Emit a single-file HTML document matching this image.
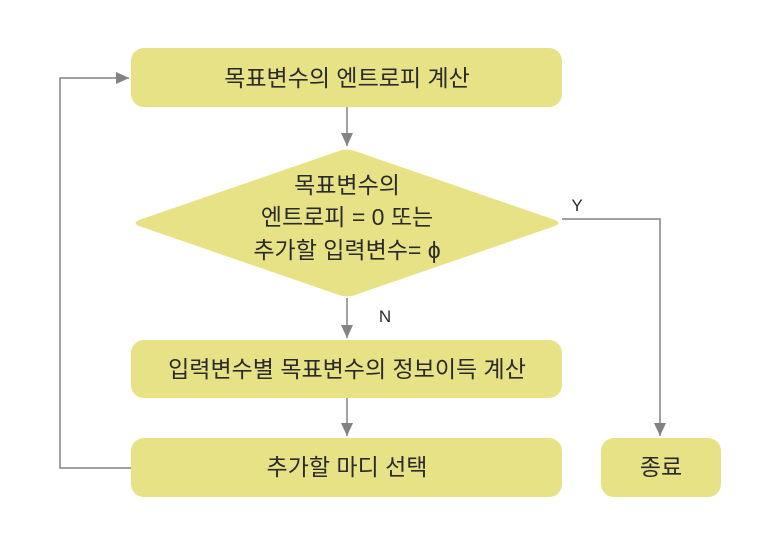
<!DOCTYPE html>
<html><head><meta charset="utf-8"><style>
body{margin:0;background:#fff;}
svg text{font-family:"Liberation Sans","Noto Sans CJK KR",sans-serif;fill:#2a2a2a;}
</style></head><body>
<svg width="771" height="550" viewBox="0 0 771 550" xmlns="http://www.w3.org/2000/svg">
<defs>
<marker id="b" markerWidth="14" markerHeight="14" refX="13" refY="6" orient="auto" markerUnits="userSpaceOnUse"><path d="M0,0 L13,6 L0,12z" fill="#808285"/></marker></defs>
<g fill="#e6e285">
<rect x="131" y="48" width="431" height="59" rx="13"/>
<path d="M139,220 L339,151 Q347,148 355,151 L555,220 Q562,223 555,226 L355,295 Q347,298 339,295 L139,226 Q132,223 139,220z"/>
<rect x="131" y="340" width="431" height="58" rx="13"/>
<rect x="131" y="438" width="431" height="59" rx="13"/>
<rect x="601" y="438" width="120" height="59" rx="13"/>
</g>
<g stroke="#808285" stroke-width="1.5" fill="none">
<line x1="347" y1="107" x2="347" y2="146" marker-end="url(#b)"/>
<line x1="347" y1="298" x2="347" y2="338" marker-end="url(#b)"/>
<line x1="347" y1="398" x2="347" y2="436" marker-end="url(#b)"/>
<polyline points="562,219 660,219 660,436" marker-end="url(#b)"/>
<polyline points="131,468 60,468 60,78 129,78" marker-end="url(#b)"/>
</g>
<g font-size="23" text-anchor="middle">
<text x="347" y="86">목표변수의 엔트로피 계산</text>
<text x="347" y="193">목표변수의</text>
<text x="347" y="225">엔트로피 = 0 또는</text>
<text x="347" y="258">추가할 입력변수= ϕ</text>
<text x="347" y="377">입력변수별 목표변수의 정보이득 계산</text>
<text x="347" y="475">추가할 마디 선택</text>
<text x="661" y="475">종료</text>
<text x="577" y="211" font-size="17">Y</text>
<text x="385" y="322" font-size="17">N</text>
</g>
</svg>
</body></html>
